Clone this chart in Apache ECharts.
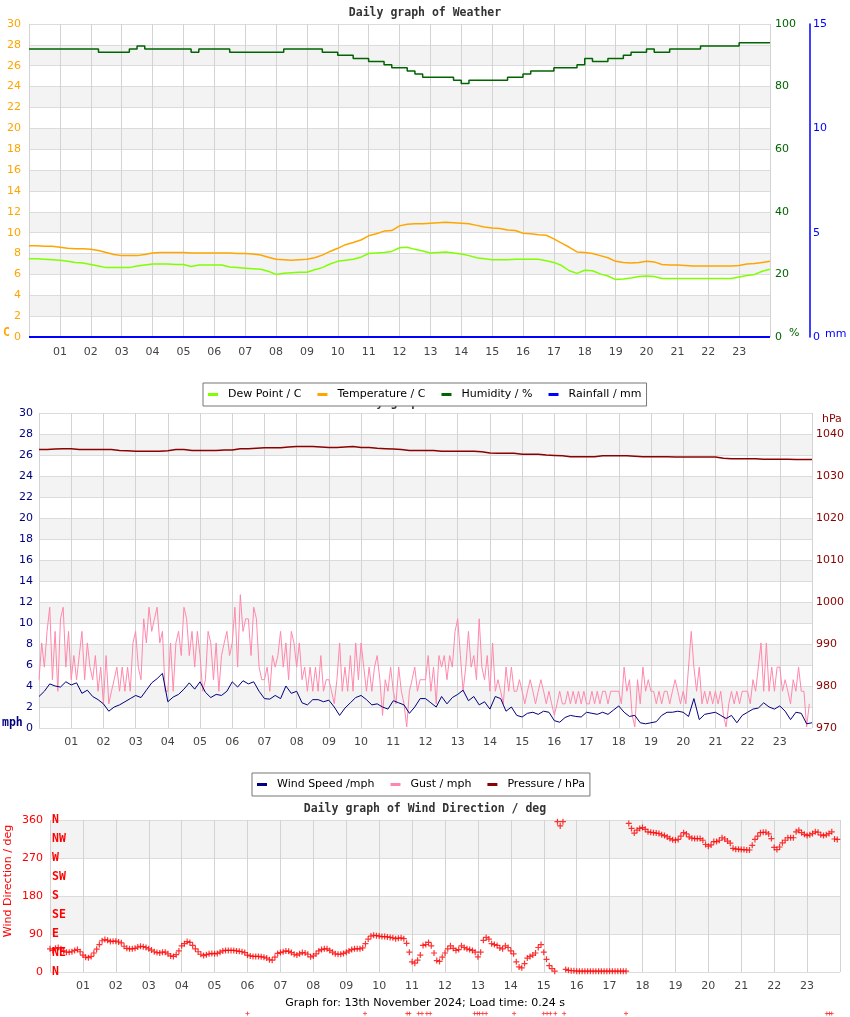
<!DOCTYPE html>
<html>
<head>
<meta charset="utf-8">
<title>Daily graph of Weather</title>
<script src="https://cdn.jsdelivr.net/npm/echarts@6/dist/echarts.min.js"></script>
<style>
  html, body { margin: 0; padding: 0; background: #fff; }
  #chart { width: 850px; height: 1017px; }
</style>
</head>
<body>
<div id="chart"></div>
<script>
const FONT = "DejaVu Sans";
const MONO = "DejaVu Sans Mono";

// tick labels
const hourLabels = ["01", "02", "03", "04", "05", "06", "07", "08", "09", "10", "11", "12",
  "13", "14", "15", "16", "17", "18", "19", "20", "21", "22", "23"];
const compassLabels = ["N", "NE", "E", "SE", "S", "SW", "W", "NW", "N"];

// weather graph, one value every 15 minutes (00:00 .. 24:00)
const dewPointC = [
  7.5, 7.5, 7.45, 7.4, 7.35, 7.25, 7.15, 7.1, 6.95, 6.8, 6.65, 6.65,
  6.65, 6.65, 6.8, 6.9, 7.0, 7.0, 7.0, 6.95, 6.95, 6.75, 6.9, 6.9,
  6.9, 6.9, 6.7, 6.65, 6.6, 6.55, 6.5, 6.3, 6.0, 6.1, 6.15, 6.2,
  6.2, 6.45, 6.65, 7.0, 7.25, 7.35, 7.45, 7.65, 8.0, 8.05, 8.1, 8.2,
  8.55, 8.6, 8.4, 8.25, 8.05, 8.1, 8.15, 8.05, 7.95, 7.8, 7.6, 7.5,
  7.4, 7.4, 7.4, 7.45, 7.45, 7.45, 7.45, 7.3, 7.15, 6.85, 6.35, 6.1,
  6.4, 6.35, 6.05, 5.85, 5.5, 5.55, 5.65, 5.8, 5.85, 5.8, 5.6, 5.6,
  5.6, 5.6, 5.6, 5.6, 5.6, 5.6, 5.6, 5.6, 5.75, 5.9, 6.0, 6.3, 6.5
];
const temperatureC = [
  8.75, 8.75, 8.7, 8.7, 8.6, 8.5, 8.45, 8.45, 8.4, 8.3, 8.1, 7.9,
  7.8, 7.8, 7.8, 7.9, 8.05, 8.1, 8.1, 8.1, 8.1, 8.05, 8.05, 8.05,
  8.05, 8.05, 8.05, 8.0, 8.0, 7.95, 7.85, 7.65, 7.45, 7.4, 7.35, 7.4,
  7.45, 7.6, 7.85, 8.2, 8.5, 8.85, 9.05, 9.3, 9.7, 9.9, 10.15, 10.2,
  10.65, 10.8, 10.85, 10.85, 10.9, 10.95, 11.0, 10.95, 10.9, 10.85, 10.7, 10.55,
  10.45, 10.4, 10.25, 10.2, 9.95, 9.9, 9.8, 9.75, 9.4, 9.0, 8.6, 8.15,
  8.1, 8.0, 7.8, 7.6, 7.25, 7.15, 7.1, 7.15, 7.25, 7.2, 6.95, 6.9,
  6.9, 6.85, 6.8, 6.8, 6.8, 6.8, 6.8, 6.8, 6.85, 7.0, 7.05, 7.15, 7.25
];
const humidityPct = [
  92, 92, 92, 92, 92, 92, 92, 92, 92, 91, 91, 91,
  91, 92, 93, 92, 92, 92, 92, 92, 92, 91, 92, 92,
  92, 92, 91, 91, 91, 91, 91, 91, 91, 92, 92, 92,
  92, 92, 91, 91, 90, 90, 89, 89, 88, 88, 87, 86,
  86, 85, 84, 83, 83, 83, 83, 82, 81, 82, 82, 82,
  82, 82, 83, 83, 84, 85, 85, 85, 86, 86, 86, 87,
  89, 88, 88, 89, 89, 90, 91, 91, 92, 91, 91, 92,
  92, 92, 92, 93, 93, 93, 93, 93, 94, 94, 94, 94, 94
];
// hourly rainfall
const rainfallMm = [0, 0, 0, 0, 0, 0, 0, 0, 0, 0, 0, 0, 0, 0, 0, 0, 0, 0, 0, 0, 0, 0, 0, 0, 0];

// wind graph
// pressure every 15 minutes
const pressureHpa = [
  1036.3, 1036.3, 1036.4, 1036.5, 1036.5, 1036.3, 1036.3, 1036.3, 1036.3, 1036.3, 1036.1, 1036.0,
  1035.9, 1035.9, 1035.9, 1035.9, 1036.0, 1036.3, 1036.3, 1036.1, 1036.1, 1036.1, 1036.1, 1036.2,
  1036.2, 1036.5, 1036.5, 1036.6, 1036.7, 1036.7, 1036.7, 1036.9, 1037.0, 1037.0, 1037.0, 1036.9,
  1036.8, 1036.8, 1036.9, 1037.0, 1036.8, 1036.8, 1036.6, 1036.5, 1036.4, 1036.3, 1036.1, 1036.1,
  1036.1, 1036.1, 1035.9, 1035.9, 1035.9, 1035.9, 1035.9, 1035.8, 1035.5, 1035.4, 1035.4, 1035.4,
  1035.2, 1035.2, 1035.2, 1035.0, 1034.9, 1034.8, 1034.6, 1034.6, 1034.6, 1034.6, 1034.8, 1034.8,
  1034.8, 1034.8, 1034.7, 1034.6, 1034.6, 1034.6, 1034.6, 1034.5, 1034.5, 1034.5, 1034.5, 1034.5,
  1034.5, 1034.2, 1034.1, 1034.1, 1034.1, 1034.1, 1034.0, 1034.0, 1034.0, 1034.0, 1033.9, 1033.9, 1033.9
];
// wind speed every 10 minutes
const windSpeedMph = [
  3.0, 3.5, 4.2, 4.0, 3.9, 4.4, 4.1, 4.3, 3.3, 3.6, 3.0, 2.7,
  2.3, 1.6, 2.0, 2.2, 2.5, 2.8, 3.1, 2.9, 3.6, 4.3, 4.7, 5.2,
  2.5, 2.95, 3.2, 3.7, 4.3, 3.7, 4.4, 3.4, 2.9, 3.2, 3.1, 3.5,
  4.4, 3.9, 4.5, 4.2, 4.4, 3.5, 2.8, 2.75, 3.1, 2.8, 4.0, 3.3,
  3.5, 2.4, 2.2, 2.7, 2.7, 2.5, 2.65, 2.0, 1.2, 1.9, 2.4, 2.9,
  3.1, 2.7, 2.2, 2.3, 2.0, 1.8, 2.6, 2.4, 2.2, 1.4, 2.0, 2.8,
  2.8, 2.4, 2.0, 3.0, 2.3, 2.9, 3.2, 3.6, 2.6, 3.0, 2.2, 2.5,
  1.8, 3.0, 2.8, 1.6, 2.0, 1.2, 1.05, 1.4, 1.5, 1.3, 1.6, 1.5,
  0.7, 0.55, 1.0, 1.2, 1.1, 1.05, 1.5, 1.4, 1.3, 1.5, 1.3, 1.7,
  2.1, 1.5, 1.1, 1.2, 0.5, 0.4, 0.5, 0.6, 1.2, 1.5, 1.5, 1.6,
  1.5, 1.1, 2.8, 0.8, 1.3, 1.4, 1.5, 1.2, 0.9, 1.2, 0.5, 1.2,
  1.5, 1.8, 1.9, 2.4, 2.0, 1.8, 2.1, 1.6, 0.8, 1.5, 1.4, 0.4, 0.5
];
// gust every 5 minutes
const gustMph = [
  4.6, 8.1, 5.8, 9.2, 11.5, 4.6, 9.2, 3.5, 10.4, 11.5, 5.8, 9.2,
  4.6, 6.9, 4.6, 6.9, 9.2, 4.6, 8.1, 5.8, 4.6, 6.9, 3.5, 5.8,
  2.3, 6.9, 2.3, 3.5, 4.6, 5.8, 3.5, 5.8, 3.5, 5.8, 3.5, 8.1,
  9.2, 5.8, 4.6, 10.4, 8.1, 11.5, 9.2, 10.4, 11.5, 8.1, 9.2, 3.5,
  3.5, 8.1, 3.5, 8.1, 9.2, 6.9, 11.5, 10.4, 6.9, 9.2, 5.8, 9.2,
  6.9, 3.5, 4.6, 9.2, 8.1, 4.6, 8.1, 3.5, 6.9, 8.1, 9.2, 6.9,
  8.1, 11.5, 5.8, 12.7, 9.2, 10.4, 10.4, 6.9, 11.5, 10.4, 5.8, 4.6,
  4.6, 5.8, 3.5, 6.9, 5.8, 6.9, 9.2, 5.8, 8.1, 4.6, 9.2, 8.1,
  5.8, 8.1, 4.6, 5.8, 3.5, 5.8, 3.5, 5.8, 3.5, 6.9, 3.5, 4.6,
  4.6, 3.5, 2.3, 4.6, 8.1, 3.5, 5.8, 3.5, 6.9, 3.5, 8.1, 4.6,
  8.1, 5.8, 3.5, 5.8, 3.5, 5.8, 6.9, 4.6, 1.2, 4.6, 3.5, 5.8,
  3.5, 2.3, 5.8, 3.5, 2.3, 0.1, 3.5, 4.6, 5.8, 3.5, 4.6, 4.6,
  4.6, 6.9, 3.5, 5.8, 2.3, 6.9, 5.8, 6.9, 4.6, 6.9, 5.8, 9.2,
  10.4, 6.9, 3.5, 5.8, 9.2, 5.8, 6.9, 4.6, 10.4, 5.8, 4.6, 6.9,
  3.5, 8.1, 3.5, 4.6, 3.5, 2.3, 5.8, 3.5, 5.8, 3.5, 3.5, 4.6,
  3.5, 2.3, 3.5, 4.6, 3.5, 2.3, 3.5, 4.6, 3.5, 2.3, 3.5, 2.3,
  1.2, 2.3, 3.5, 2.3, 2.3, 3.5, 2.3, 3.5, 2.3, 3.5, 2.3, 3.5,
  2.3, 2.3, 3.5, 2.3, 3.5, 2.3, 3.5, 3.5, 2.3, 3.5, 3.5, 3.5,
  3.5, 2.3, 5.8, 3.5, 4.6, 1.2, 0.1, 4.6, 2.3, 5.8, 3.5, 4.6,
  3.5, 3.5, 2.3, 3.5, 2.3, 3.5, 3.5, 2.3, 3.5, 4.6, 3.5, 2.3,
  3.5, 2.3, 5.8, 9.2, 5.8, 3.5, 5.8, 2.3, 3.5, 2.3, 3.5, 2.3,
  3.5, 2.3, 3.5, 1.2, 0.1, 2.3, 3.5, 2.3, 3.5, 2.3, 3.5, 3.5,
  3.5, 2.3, 4.6, 3.5, 5.8, 8.1, 3.5, 8.1, 3.5, 5.8, 3.5, 5.8,
  5.8, 3.5, 4.6, 3.5, 2.3, 4.6, 3.5, 5.8, 3.5, 3.5, 0.1, 2.3
];

// wind direction every 5 minutes
const windDirDeg = [
  55, 51, 56, 58, 55, 50, 47, 47, 48, 51, 53, 48,
  40, 35, 34, 37, 45, 54, 65, 74, 77, 75, 72, 73,
  73, 71, 69, 61, 56, 55, 55, 56, 59, 61, 60, 58,
  55, 52, 48, 46, 45, 47, 47, 43, 38, 37, 41, 50,
  62, 67, 72, 70, 63, 55, 48, 42, 39, 41, 43, 44,
  43, 44, 47, 50, 51, 51, 51, 51, 50, 49, 48, 46,
  40, 38, 37, 37, 37, 36, 35, 33, 29, 28, 35, 44,
  46, 48, 50, 49, 46, 42, 40, 43, 46, 45, 42, 36,
  38, 43, 50, 53, 55, 55, 51, 47, 43, 42, 42, 44,
  47, 50, 53, 55, 55, 55, 57, 67, 78, 85, 87, 86,
  85, 84, 84, 83, 82, 81, 79, 80, 81, 79, 68, 47,
  24, 21, 28, 40, 63, 65, 70, 62, 45, 27, 25, 35,
  45, 55, 62, 56, 51, 53, 62, 58, 55, 53, 51, 47,
  36, 47, 75, 82, 78, 67, 65, 63, 57, 55, 62, 58,
  50, 43, 24, 12, 10, 20, 33, 37, 40, 45, 58, 65,
  47, 30, 15, 8, 2, 356, 346, 356, 6, 4, 3, 3,
  2, 2, 2, 2, 2, 2, 2, 2, 2, 2, 2, 2,
  2, 2, 2, 2, 2, 2, 2, 352, 340, 329, 336, 340,
  342, 338, 332, 331, 330, 329, 328, 325, 323, 320, 316, 313,
  312, 314, 322, 330, 327, 320, 317, 316, 316, 316, 312, 302,
  298, 301, 309, 309, 312, 318, 315, 310, 305, 293, 291, 291,
  290, 290, 289, 289, 300, 314, 322, 330, 331, 331, 327, 316,
  295, 290, 296, 306, 312, 318, 318, 318, 332, 336, 330, 326,
  323, 325, 328, 332, 331, 325, 323, 325, 328, 332, 315, 314
];
// odd readings that fall below the graph
const strayDirHours = [6.0, 9.57, 10.85, 10.92, 11.2, 11.3, 11.45, 11.55, 12.9, 12.98, 13.05,
  13.15, 13.25, 14.1, 15.0, 15.1, 15.2, 15.35, 15.62, 17.5, 23.6, 23.68, 23.75];
const strayDirDeg = -98;

const toPairs = (vals, stepH) => vals.map((v, i) => [i * stepH, v]);

const titleStyle = { fontFamily: MONO, fontWeight: "bold", fontSize: 11.5, color: "#333" };
const legendBase = {
  orient: "horizontal",
  selectedMode: false,
  icon: "rect",
  itemWidth: 10,
  itemHeight: 3,
  itemGap: 16,
  padding: [6, 5, 6, 5],
  borderColor: "#777",
  borderWidth: 1,
  backgroundColor: "#fff",
  z: 4,
  textStyle: { fontFamily: FONT, fontSize: 11, color: "#000", padding: [0, 0, 0, 5] }
};

const hourAxis = (gridIndex, margin) => ({
  type: "value",
  gridIndex,
  min: 0,
  max: 24,
  interval: 1,
  axisLine: { show: false },
  axisTick: { show: false },
  axisLabel: {
    color: "#444",
    fontFamily: FONT,
    fontSize: 11,
    margin,
    formatter: (v) => hourLabels[v - 1] || ""
  },
  splitLine: { show: true, lineStyle: { color: "#d3d3d3" } }
});

const bandedAxis = (gridIndex, min, max, interval, color, margin) => ({
  type: "value",
  gridIndex,
  position: "left",
  min,
  max,
  interval,
  axisLine: { show: false },
  axisTick: { show: false },
  axisLabel: { color, fontFamily: FONT, fontSize: 11, margin },
  splitLine: { show: true, lineStyle: { color: "#dcdcdc" } },
  splitArea: { show: true, areaStyle: { color: ["#ffffff", "#f3f3f3"] } }
});

const sideAxis = (gridIndex, min, max, interval, color, margin, offset) => ({
  type: "value",
  gridIndex,
  position: "right",
  offset: offset || 0,
  min,
  max,
  interval,
  axisLine: { show: false },
  axisTick: { show: false },
  axisLabel: { color, fontFamily: FONT, fontSize: 11, margin },
  splitLine: { show: false }
});

const rainAxis = sideAxis(0, 0, 15, 5, "#0000ff", 3, 40);
rainAxis.axisLine = { show: true, onZero: false, lineStyle: { color: "#0000ff", width: 1.5 } };

const pressureAxis = sideAxis(1, 970, 1045, 10, "#8b0000", 4);
pressureAxis.axisLabel.formatter = (v) => (v % 10 === 0 ? String(v) : "");

const compassAxis = {
  type: "value",
  gridIndex: 2,
  position: "left",
  min: 0,
  max: 360,
  interval: 45,
  axisLine: { show: false },
  axisTick: { show: false },
  splitLine: { show: false },
  axisLabel: {
    inside: true,
    margin: 2,
    color: "#ff0000",
    fontFamily: MONO,
    fontWeight: "bold",
    fontSize: 11.5,
    formatter: (v) => compassLabels[v / 45]
  }
};

const lineSeries = (name, color, width, xi, yi, data, extra) => Object.assign({
  name,
  type: "line",
  xAxisIndex: xi,
  yAxisIndex: yi,
  color,
  showSymbol: false,
  symbol: "none",
  lineStyle: { width, color },
  data
}, extra || {});

const plusMark = "path://M2,0H3V5H2ZM0,2H5V3H0Z";

const chart = echarts.init(document.getElementById("chart"));
chart.setOption({
  animation: false,
  backgroundColor: "#fff",
  title: [
    { text: "Daily graph of Weather", left: "center", top: 7, padding: 0, textStyle: titleStyle },
    { text: "Daily graph of Weather", left: "center", top: 397, padding: 0, z: 1, textStyle: titleStyle },
    { text: "Daily graph of Wind Direction / deg", left: "center", top: 803, padding: 0, textStyle: titleStyle },
    {
      text: "Graph for: 13th November 2024; Load time: 0.24 s",
      left: "center",
      top: 998,
      padding: 0,
      textStyle: { fontFamily: FONT, fontWeight: "normal", fontSize: 11, color: "#000" }
    }
  ],
  legend: [
    Object.assign({}, legendBase, {
      left: 203,
      top: 383,
      data: ["Dew Point / C", "Temperature / C", "Humidity / %", "Rainfall / mm"]
    }),
    Object.assign({}, legendBase, {
      left: 252,
      top: 773,
      data: ["Wind Speed /mph", "Gust / mph", "Pressure / hPa"]
    })
  ],
  grid: [
    { left: 29, top: 24, width: 741, height: 313 },
    { left: 39, top: 413, width: 773, height: 315 },
    { left: 50, top: 820, width: 790, height: 152 }
  ],
  xAxis: [hourAxis(0, 10), hourAxis(1, 9), hourAxis(2, 9)],
  yAxis: [
    bandedAxis(0, 0, 30, 2, "#ffa500", 8),
    sideAxis(0, 0, 100, 20, "#006400", 5),
    rainAxis,
    bandedAxis(1, 0, 30, 2, "#000080", 6),
    pressureAxis,
    bandedAxis(2, 0, 360, 90, "#ff0000", 7),
    compassAxis
  ],
  graphic: [
    { type: "text", x: 3, y: 333, style: { text: "C", fill: "#ffa500", fontFamily: MONO, fontWeight: "bold", fontSize: 11.5, verticalAlign: "middle" } },
    { type: "text", x: 789, y: 333, style: { text: "%", fill: "#006400", fontFamily: FONT, fontSize: 11, verticalAlign: "middle" } },
    { type: "text", x: 825, y: 334, style: { text: "mm", fill: "#0000ff", fontFamily: FONT, fontSize: 11, verticalAlign: "middle" } },
    { type: "text", x: 2, y: 723, style: { text: "mph", fill: "#000080", fontFamily: MONO, fontWeight: "bold", fontSize: 11.5, verticalAlign: "middle" } },
    { type: "text", x: 822, y: 419, style: { text: "hPa", fill: "#8b0000", fontFamily: FONT, fontSize: 11, verticalAlign: "middle" } },
    {
      type: "text", x: 8, y: 881, rotation: Math.PI / 2,
      style: { text: "Wind Direction / deg", fill: "#ff0000", fontFamily: FONT, fontSize: 11, align: "center", verticalAlign: "middle" }
    }
  ],
  series: [
    lineSeries("Dew Point / C", "#7fff00", 1.5, 0, 0, toPairs(dewPointC, 0.25)),
    lineSeries("Temperature / C", "#ffa500", 1.5, 0, 0, toPairs(temperatureC, 0.25)),
    lineSeries("Humidity / %", "#006400", 1.5, 0, 1, toPairs(humidityPct, 0.25), { step: "end" }),
    lineSeries("Rainfall / mm", "#0000ff", 2, 0, 2, toPairs(rainfallMm, 1)),
    lineSeries("Gust / mph", "#ff88aa", 1, 1, 3, toPairs(gustMph, 1 / 12)),
    lineSeries("Wind Speed /mph", "#000080", 1, 1, 3, toPairs(windSpeedMph, 1 / 6)),
    lineSeries("Pressure / hPa", "#8b0000", 1.5, 1, 4, toPairs(pressureHpa, 0.25)),
    {
      name: "Wind Direction",
      type: "scatter",
      xAxisIndex: 2,
      yAxisIndex: 5,
      symbol: plusMark,
      symbolSize: 6,
      itemStyle: { color: "#ff0000" },
      data: toPairs(windDirDeg, 1 / 12)
    },
    {
      name: "Wind Direction stray",
      type: "scatter",
      xAxisIndex: 2,
      yAxisIndex: 5,
      clip: false,
      symbol: plusMark,
      symbolSize: 4,
      itemStyle: { color: "#ff0000" },
      data: strayDirHours.map((h) => [h, strayDirDeg])
    }
  ]
});
</script>
</body>
</html>
